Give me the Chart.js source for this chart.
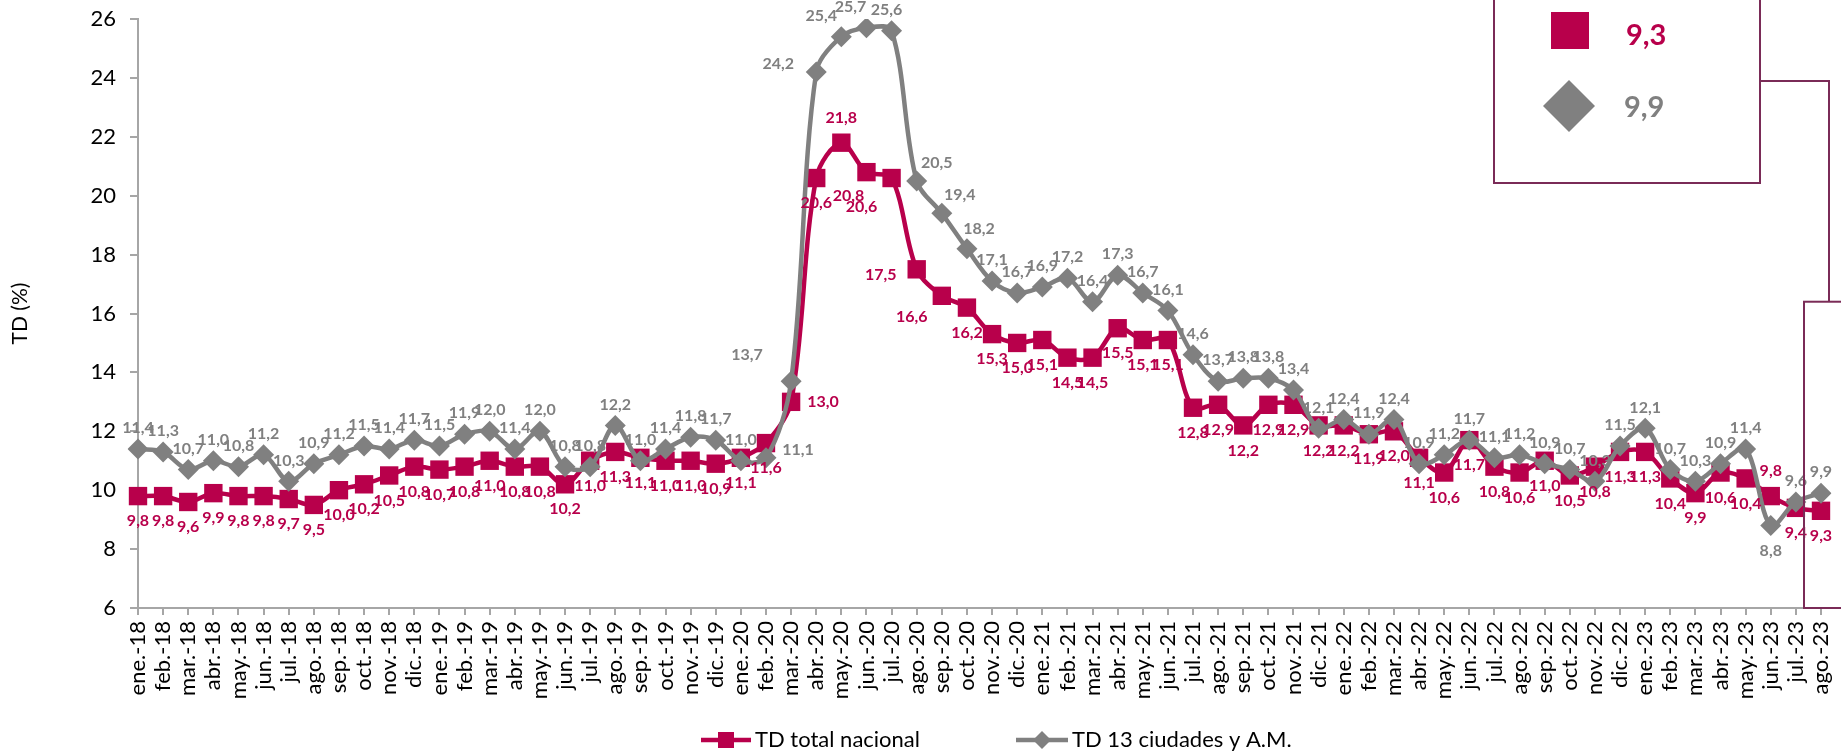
<!DOCTYPE html>
<html><head><meta charset="utf-8">
<script src="https://cdn.jsdelivr.net/npm/chart.js@4.4.0/dist/chart.umd.min.js"></script>
<style>html,body{margin:0;padding:0;background:#fff}#wrap{width:1841px;height:752px;position:relative}</style>
</head><body><div id="wrap"><canvas id="c" width="1841" height="752"></canvas></div>
<script>
const categories = [
 'ene.-18','feb.-18','mar.-18','abr.-18','may.-18','jun.-18','jul.-18','ago.-18','sep.-18','oct.-18','nov.-18','dic.-18',
 'ene.-19','feb.-19','mar.-19','abr.-19','may.-19','jun.-19','jul.-19','ago.-19','sep.-19','oct.-19','nov.-19','dic.-19',
 'ene.-20','feb.-20','mar.-20','abr.-20','may.-20','jun.-20','jul.-20','ago.-20','sep.-20','oct.-20','nov.-20','dic.-20',
 'ene.-21','feb.-21','mar.-21','abr.-21','may.-21','jun.-21','jul.-21','ago.-21','sep.-21','oct.-21','nov.-21','dic.-21',
 'ene.-22','feb.-22','mar.-22','abr.-22','may.-22','jun.-22','jul.-22','ago.-22','sep.-22','oct.-22','nov.-22','dic.-22',
 'ene.-23','feb.-23','mar.-23','abr.-23','may.-23','jun.-23','jul.-23','ago.-23'
];
const tdNacional = [
 9.8, 9.8, 9.6, 9.9, 9.8, 9.8, 9.7, 9.5, 10.0, 10.2, 10.5, 10.8,
 10.7, 10.8, 11.0, 10.8, 10.8, 10.2, 11.0, 11.3, 11.1, 11.0, 11.0, 10.9,
 11.1, 11.6, 13.0, 20.6, 21.8, 20.8, 20.6, 17.5, 16.6, 16.2, 15.3, 15.0,
 15.1, 14.5, 14.5, 15.5, 15.1, 15.1, 12.8, 12.9, 12.2, 12.9, 12.9, 12.2,
 12.2, 11.9, 12.0, 11.1, 10.6, 11.7, 10.8, 10.6, 11.0, 10.5, 10.8, 11.3,
 11.3, 10.4, 9.9, 10.6, 10.4, 9.8, 9.4, 9.3
];
const td13Ciudades = [
 11.4, 11.3, 10.7, 11.0, 10.8, 11.2, 10.3, 10.9, 11.2, 11.5, 11.4, 11.7,
 11.5, 11.9, 12.0, 11.4, 12.0, 10.8, 10.8, 12.2, 11.0, 11.4, 11.8, 11.7,
 11.0, 11.1, 13.7, 24.2, 25.4, 25.7, 25.6, 20.5, 19.4, 18.2, 17.1, 16.7,
 16.9, 17.2, 16.4, 17.3, 16.7, 16.1, 14.6, 13.7, 13.8, 13.8, 13.4, 12.1,
 12.4, 11.9, 12.4, 10.9, 11.2, 11.7, 11.1, 11.2, 10.9, 10.7, 10.3, 11.5,
 12.1, 10.7, 10.3, 10.9, 11.4, 8.8, 9.6, 9.9
];
const seriesNames = ['TD total nacional', 'TD 13 ciudades y A.M.'];
const yTickValues = [6, 8, 10, 12, 14, 16, 18, 20, 22, 24, 26];
const yAxisTitle = 'TD (%)';

const RED = '#B8004B', GRAY = '#808080', BOX = '#7A2B57';
const FONT = 'Lato, "Open Sans", sans-serif';
const fmt = v => v.toFixed(1).replace('.', ',');

// label placement (style only): default offset per dataset plus a few manual nudges
const labelPlacement = [
  { dy: 25, nudge: {26:[32,0], 28:[0,-25], 29:[-18,24], 30:[-30,29], 31:[-36,6], 32:[-30,21], 65:[0,-25]} },
  { dy: -21, nudge: {25:[32,-8], 26:[-44,-26], 27:[-38,-8], 28:[-20,-21], 29:[-16,-21], 30:[-5,-21], 31:[20,-18], 32:[18,-19], 33:[12,-20], 65:[0,25]} }
];

const labelsPlugin = {
  id: 'valueLabels',
  afterDatasetsDraw(chart) {
    const ctx = chart.ctx;
    ctx.save();
    ctx.font = 'bold 16px ' + FONT;
    ctx.textAlign = 'center';
    ctx.textBaseline = 'middle';
    chart.data.datasets.forEach((ds, di) => {
      const meta = chart.getDatasetMeta(di);
      const pl = labelPlacement[di];
      ctx.fillStyle = di === 0 ? RED : GRAY;
      meta.data.forEach((pt, i) => {
        const n = pl.nudge[i];
        const dx = n ? n[0] : 0, dy = n ? n[1] : pl.dy;
        ctx.fillText(fmt(ds.data[i]), pt.x + dx, pt.y + dy);
      });
    });
    ctx.restore();
  }
};

const decorPlugin = {
  id: 'decor',
  afterDraw(chart) {
    const ctx = chart.ctx;
    const xs = chart.scales.x, ys = chart.scales.y;
    const lastIdx = categories.length - 1;
    const lastX = xs.getPixelForValue(lastIdx);
    ctx.save();
    ctx.strokeStyle = BOX; ctx.lineWidth = 2;
    ctx.strokeRect(1494, -3, 266, 186);
    const hTop = ys.getPixelForValue(16.4);
    ctx.strokeRect(lastX - 17, hTop, 120, ys.bottom - hTop);
    ctx.beginPath();
    ctx.moveTo(1760, 81); ctx.lineTo(lastX + 8, 81); ctx.lineTo(lastX + 8, hTop);
    ctx.stroke();
    ctx.fillStyle = RED;
    ctx.fillRect(1551, 12, 38, 37);
    ctx.fillStyle = GRAY;
    ctx.beginPath();
    ctx.moveTo(1569, 80); ctx.lineTo(1595, 106); ctx.lineTo(1569, 132); ctx.lineTo(1543, 106); ctx.closePath();
    ctx.fill();
    ctx.font = 'bold 29px ' + FONT;
    ctx.textBaseline = 'middle'; ctx.textAlign = 'left';
    ctx.fillStyle = RED; ctx.fillText(fmt(tdNacional[lastIdx]), 1626, 36);
    ctx.fillStyle = GRAY; ctx.fillText(fmt(td13Ciudades[lastIdx]), 1624, 108);
    // legend
    const ly = 740;
    ctx.lineWidth = 4.5;
    ctx.strokeStyle = RED; ctx.beginPath(); ctx.moveTo(701, ly); ctx.lineTo(751, ly); ctx.stroke();
    ctx.fillStyle = RED; ctx.fillRect(718, ly - 8, 16, 16);
    ctx.strokeStyle = GRAY; ctx.beginPath(); ctx.moveTo(1016, ly); ctx.lineTo(1068, ly); ctx.stroke();
    ctx.fillStyle = GRAY; ctx.beginPath();
    ctx.moveTo(1042, ly - 9); ctx.lineTo(1051, ly); ctx.lineTo(1042, ly + 9); ctx.lineTo(1033, ly); ctx.closePath(); ctx.fill();
    ctx.font = '22px ' + FONT; ctx.fillStyle = '#000';
    ctx.fillText(seriesNames[0], 755, ly);
    ctx.fillText(seriesNames[1], 1072, ly);
    ctx.restore();
  }
};

new Chart(document.getElementById('c'), {
  type: 'line',
  data: {
    labels: categories,
    datasets: [
      { label: seriesNames[0], data: tdNacional, borderColor: RED, backgroundColor: RED, borderWidth: 4.5,
        pointStyle: 'rect', pointRadius: 13, pointHoverRadius: 13, pointBorderWidth: 0, tension: 0.33, order: 1 },
      { label: seriesNames[1], data: td13Ciudades, borderColor: GRAY, backgroundColor: GRAY, borderWidth: 4.5,
        pointStyle: 'rectRot', pointRadius: 10.5, pointHoverRadius: 10.5, pointBorderWidth: 0, tension: 0.33, order: 0 }
    ]
  },
  options: {
    responsive: false, animation: false, devicePixelRatio: 1,
    layout: { padding: { left: 0, right: 20, top: 19, bottom: 44 } },
    plugins: { legend: { display: false }, tooltip: { enabled: false } },
    scales: {
      x: {
        type: 'category', offset: false,
        afterFit: s => { s.height = 100; s.paddingLeft = 0; s.paddingRight = 0; },
        border: { display: true, color: '#A6A6A6', width: 2 },
        grid: { display: true, drawOnChartArea: false, drawTicks: true, tickLength: 7, color: '#A6A6A6', lineWidth: 2 },
        ticks: { autoSkip: false, maxRotation: 90, minRotation: 90, padding: 6, color: '#000', font: { family: FONT, size: 22 } }
      },
      y: {
        min: 6, max: 26,
        afterFit: s => { s.width = 138; s.paddingTop = 0; s.paddingBottom = 0; },
        afterBuildTicks: s => { s.ticks = yTickValues.map(v => ({ value: v })); },
        border: { display: true, color: '#A6A6A6', width: 2 },
        grid: { display: true, drawOnChartArea: false, drawTicks: true, tickLength: 8, color: '#A6A6A6', lineWidth: 2 },
        ticks: { padding: 14, color: '#000', font: { family: FONT, size: 22 } },
        title: { display: true, text: yAxisTitle, color: '#000', font: { family: FONT, size: 21 }, padding: { top: 8, bottom: 4 } }
      }
    }
  },
  plugins: [labelsPlugin, decorPlugin]
});
</script></body></html>
